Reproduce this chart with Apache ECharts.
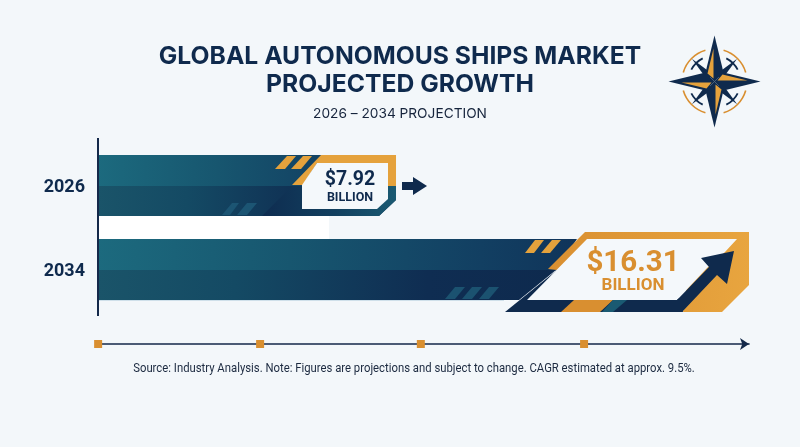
<!DOCTYPE html>
<html>
<head>
<meta charset="utf-8">
<style>html,body{margin:0;padding:0;background:#f3f7fa}#c{width:800px;height:447px}</style>
<script src="https://cdn.jsdelivr.net/npm/echarts@6/dist/echarts.min.js"></script>
</head>
<body>
<div id="c"></div>
<script>
const categories = ['2026', '2034'];
const marketValues = [7.92, 16.31];
const valueUnit = 'BILLION';
const timelineTicks = [0.84, 4.69, 8.51, 12.39];
const titleLines = 'GLOBAL AUTONOMOUS SHIPS MARKET\nPROJECTED GROWTH';
const subtitleText = '2026 \u2013 2034 PROJECTION';
const sourceText = 'Source: Industry Analysis. Note: Figures are projections and subject to change. CAGR estimated at approx. 9.5%.';

const NAVY = '#0f2a4d', GOLD = '#e5a23c', GOLD2 = '#d98f30';
const grad = (stops, x2 = 1, y2 = 0) => new echarts.graphic.LinearGradient(0, 0, x2, y2,
  stops.map(c => ({ offset: c[1], color: c[0] })));

function poly(pts, ox, oy, fill, extra) {
  return Object.assign({
    type: 'polygon',
    shape: { points: pts.map(p => [ox + p[0], oy + p[1]]) },
    style: { fill }
  }, extra || {});
}
function label(text, x, y, size, fill, weight) {
  return { type: 'text', style: { text, x, y, fill, align: 'center', verticalAlign: 'middle',
    font: (weight || 700) + ' ' + size + 'px Roboto, sans-serif' }, z2: 20 };
}

function renderBar(params, api) {
  const i = params.dataIndex;
  const val = api.value(0);
  const end = api.coord([val, i]);
  const ex = end[0], cy = end[1];
  const sx = params.coordSys.x - ex; // start of the bar relative to its end
  const ch = [];
  const topGrad = grad([['#1c6a7e', 0], ['#17566f', 0.4], ['#123f62', 0.8], ['#10345a', 1]]);
  const botGrad = grad([['#1a5469', 0], ['#144a64', 0.3], ['#0f2d52', 0.72], ['#0e2a4e', 1]]);
  if (i === 0) {
    ch.push(poly([[sx, -30.5], [0, -30.5], [0, 1], [sx, 1]], ex, cy, topGrad));
    ch.push(poly([[sx, 0.5], [0, 0.5], [0, 14.5], [-17, 30.5], [sx, 30.5]], ex, cy, botGrad));
    ch.push(poly([[-104, 0.5], [0, 0.5], [0, 14.5], [-17, 30.5], [-134, 30.5]], ex, cy,
      grad([['#0e2c50', 0], ['#12405f', 0.55], ['#1a5a72', 1]])));
    ch.push(poly([[-75, -30.5], [0, -30.5], [0, 0.5], [-8, 0.5], [-8, -22.5], [-79, -22.5], [-93, -0.5], [-104, -0.5]], ex, cy, GOLD));
    ch.push(poly([[-79, -22.5], [-8, -22.5], [-8, 13.5], [-19, 23.5], [-94, 23.5], [-94, -0.5]], ex, cy, '#f4f8fb'));
    [[-109, -29.5, -100, -111, -16.5, -121], [-93, -29.5, -84, -95, -16.5, -105]].forEach(s =>
      ch.push(poly([[s[0], s[1]], [s[2], s[1]], [s[3], s[4]], [s[5], s[4]]], ex, cy, GOLD)));
    [[-164, -157, -166, -174], [-149, -139, -149, -159]].forEach(s =>
      ch.push(poly([[s[0], 17.5], [s[1], 17.5], [s[2], 29.5], [s[3], 29.5]], ex, cy, '#1c5573')));
    ch.push(poly([[6, -3.5], [17, -3.5], [17, -8.5], [31, 0.5], [17, 9.5], [17, 4.5], [6, 4.5]], ex, cy, NAVY));
    ch.push(label('$' + val.toFixed(2), ex - 46, cy - 5, 19.5, NAVY));
    ch.push(label(valueUnit, ex - 46, cy + 12, 12.5, NAVY));
  } else {
    ch.push(poly([[sx, -30.5], [-172, -30.5], [-193, 1], [sx, 1]], ex, cy, topGrad));
    ch.push(poly([[sx, 0.5], [-193, 0.5], [-230, 30.5], [sx, 30.5]], ex, cy, botGrad));
    ch.push(poly([[-164, -37.5], [0, -37.5], [0, 15.5], [-27, 42.5], [-66, 42.5], [-60, 0.5], [-192, 0.5], [-201, -0.5]], ex, cy,
      grad([['#d98f30', 0], ['#e8a53f', 1]])));
    ch.push(poly([[-192, 0.5], [-80, 0.5], [-66, 42.5], [-244, 42.5]], ex, cy, NAVY));
    ch.push(poly([[-162, -30.5], [-12, -30.5], [-24, -17.5], [-42, -1.5], [-72, 30.5], [-222, 30.5]], ex, cy, '#f4f8fb'));
    ch.push(poly([[-72, 30.5], [-40, -2.5], [-48, -11.5], [-15, -18.5], [-22, 14.5], [-32, 5.5], [-67, 42.5], [-80, 42.5]], ex, cy, NAVY));
    ch.push(poly([[-188, 42.5], [-175, 30.5], [-136, 30.5], [-149, 42.5]], ex, cy, GOLD2));
    ch.push(poly([[-147, 42.5], [-136, 30.5], [-122, 30.5], [-136, 42.5]], ex, cy, '#1a5a72'));
    [[-214, -205, -215, -224], [-197, -188, -199, -208]].forEach(s =>
      ch.push(poly([[s[0], -29.5], [s[1], -29.5], [s[2], -16.5], [s[3], -16.5]], ex, cy, GOLD)));
    [[-294, -284, -294, -304], [-277, -267, -277, -287], [-260, -250, -260, -270]].forEach(s =>
      ch.push(poly([[s[0], 17.5], [s[1], 17.5], [s[2], 29.5], [s[3], 29.5]], ex, cy, '#1b5270')));
    ch.push(label('$' + val.toFixed(2), ex - 116, cy - 6, 29.5, GOLD2));
    ch.push(label(valueUnit, ex - 116, cy + 16.5, 17, GOLD2));
  }
  return { type: 'group', children: ch };
}

function renderTick(params, api) {
  const x = api.coord([api.value(0), 0])[0];
  return { type: 'rect', shape: { x: x - 4, y: 340, width: 8, height: 8 }, style: { fill: GOLD2 } };
}

// compass emblem
const CX = 714.5, CY = 81.5;
function rotated(pts, deg) {
  const a = deg * Math.PI / 180, c = Math.cos(a), s = Math.sin(a);
  return pts.map(p => [CX + p[0] * c - p[1] * s, CY + p[0] * s + p[1] * c]);
}
const compass = [];
[[0.09, 0.41], [0.59, 0.91], [1.09, 1.41], [1.59, 1.91]].forEach(r => {
  compass.push({ type: 'arc', shape: { cx: CX, cy: CY, r: 32.5, startAngle: r[0] * Math.PI, endAngle: r[1] * Math.PI },
    style: { stroke: GOLD2, lineWidth: 1.6, fill: null } });
  compass.push({ type: 'arc', shape: { cx: CX, cy: CY, r: 26, startAngle: (r[0] + 0.06) * Math.PI, endAngle: (r[1] - 0.06) * Math.PI },
    style: { stroke: NAVY, lineWidth: 1.8, fill: null } });
});
[45, 135, 225, 315].forEach(d => {
  compass.push({ type: 'polygon', shape: { points: rotated([[-4, -6], [0, -32], [4, -6]], d) }, style: { fill: NAVY } });
});
[0, 90, 180, 270].forEach(d => {
  compass.push({ type: 'polygon', shape: { points: rotated([[-9, -9], [0, -46], [9, -9], [0, 0]], d) }, style: { fill: NAVY } });
  compass.push({ type: 'polygon', shape: { points: rotated([[-7, -8], [-1, -33], [-1, -3]], d) }, style: { fill: GOLD } });
});

const chart = echarts.init(document.getElementById('c'), null, { renderer: 'canvas' });
chart.setOption({
  animation: false,
  backgroundColor: '#f3f7fa',
  title: [
    { text: titleLines, left: 400, top: 43, padding: 0, textAlign: 'center',
      textStyle: { fontFamily: 'Inter', fontWeight: 700, fontSize: 24.7, lineHeight: 28, color: '#0f2a4d' } },
    { text: subtitleText, left: 400, top: 107, padding: 0, textAlign: 'center',
      textStyle: { fontFamily: 'Inter', fontWeight: 400, fontSize: 13.7, color: '#16243c' } }
  ],
  grid: { left: 98, right: 51, top: 143.5, height: 168 },
  xAxis: {
    type: 'value', min: 0.837, max: 16.31, offset: 32.5,
    axisLine: { show: true, onZero: false, symbol: ['none', 'arrow'], symbolSize: [9, 9], symbolOffset: [0, 0],
      lineStyle: { color: '#14294a', width: 1.6 } },
    axisTick: { show: false }, axisLabel: { show: false }, splitLine: { show: false }
  },
  yAxis: {
    type: 'category', inverse: true, data: categories,
    axisLine: { show: false }, axisTick: { show: false },
    axisLabel: { margin: 13, formatter: v => '{y|' + v + '}',
      rich: { y: { padding: [4, 0, 0, 0], fontFamily: 'Roboto', fontWeight: 700, fontSize: 18, color: '#0f2a4d' } } }
  },
  graphic: [
    { type: 'rect', shape: { x: 97, y: 138, width: 2, height: 178 }, style: { fill: '#14294a' }, z: 10 },
    { type: 'rect', shape: { x: 98, y: 216, width: 231, height: 23 }, style: { fill: '#ffffff' }, z: 1 },
    { type: 'rect', shape: { x: 99, y: 300, width: 405, height: 1 }, style: { fill: '#cfe0ea' }, z: 1 },
    { type: 'group', children: compass, z: 5 },
    { type: 'text', x: 414, y: 369, scaleX: 0.87, z: 5,
      style: { text: sourceText, align: 'center', verticalAlign: 'middle', fill: '#1c2a40', font: '400 13px Roboto, sans-serif' } }
  ],
  series: [
    { type: 'custom', name: 'Market size', renderItem: renderBar, clip: false,
      encode: { x: 0 }, data: marketValues.map(v => [v]), z: 3 },
    { type: 'custom', name: 'Timeline', renderItem: renderTick, clip: false,
      encode: { x: 0 }, data: timelineTicks.map(v => [v]), z: 4 }
  ]
});
</script>
</body>
</html>
